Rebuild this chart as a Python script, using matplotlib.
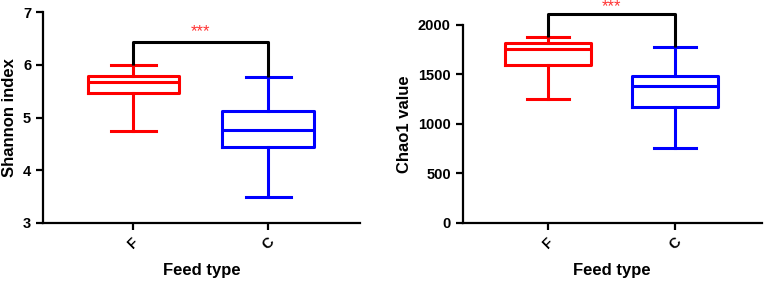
import matplotlib.pyplot as plt

plt.rcParams['font.family'] = ['Liberation Sans', 'DejaVu Sans']
plt.rcParams['font.weight'] = 'bold'

groups = ['F', 'C']
colors = ['#ff0000', '#0000ff']

# Shannon index box stats (min, q1, median, q3, max)
shannon_lo = [4.74, 3.49]
shannon_q1 = [5.46, 4.44]
shannon_med = [5.67, 4.76]
shannon_q3 = [5.79, 5.13]
shannon_hi = [5.99, 5.76]

# Chao1 box stats
chao_lo = [1254, 752]
chao_q1 = [1592, 1167]
chao_med = [1757, 1383]
chao_q3 = [1821, 1484]
chao_hi = [1875, 1780]


def draw_panel(ax, lo, q1, med, q3, hi, ylim, yticks, ylabel, bar_y, star_y):
    for i in range(len(groups)):
        st = [dict(whislo=lo[i], q1=q1[i], med=med[i], q3=q3[i], whishi=hi[i], fliers=[])]
        c = colors[i]
        ax.bxp(st, positions=[i], widths=0.68, capwidths=0.33, showfliers=False,
               boxprops=dict(color=c, linewidth=2.2),
               medianprops=dict(color=c, linewidth=2.2),
               whiskerprops=dict(color=c, linewidth=2.2),
               capprops=dict(color=c, linewidth=2.2))
    ax.plot([0, 0, 1, 1], [hi[0], bar_y, bar_y, hi[1]], color='black', lw=2.2,
            clip_on=False, solid_capstyle='butt', zorder=5)
    ax.text(0.5, star_y, '***', color='#ff3333', ha='center', va='center',
            fontsize=12, fontweight='normal')
    ax.set_xlim(-0.67, 1.68)
    ax.set_ylim(*ylim)
    ax.set_yticks(yticks)
    ax.set_xticks(range(len(groups)))
    ax.set_xticklabels(groups, rotation=45, ha='center', fontsize=10)
    ax.spines['top'].set_visible(False)
    ax.spines['right'].set_visible(False)
    ax.spines['left'].set_linewidth(1.6)
    ax.spines['bottom'].set_linewidth(1.6)
    ax.tick_params(direction='out', length=5, width=1.6, labelsize=10.5)
    ax.set_ylabel(ylabel, fontsize=12, fontweight='bold')
    ax.set_xlabel('Feed type', fontsize=12, fontweight='bold', labelpad=8)


fig = plt.figure(figsize=(7.65, 2.84), dpi=100)
ax1 = fig.add_axes([0.0562, 0.2148, 0.4144, 0.7429])
ax2 = fig.add_axes([0.6048, 0.2158, 0.3909, 0.6962])

draw_panel(ax1, shannon_lo, shannon_q1, shannon_med, shannon_q3, shannon_hi,
           (3, 7), [3, 4, 5, 6, 7], 'Shannon index', 6.43, 6.62)
draw_panel(ax2, chao_lo, chao_q1, chao_med, chao_q3, chao_hi,
           (0, 2000), [0, 500, 1000, 1500, 2000], 'Chao1 value', 2108, 2190)

fig.savefig('out.png', dpi=100)
